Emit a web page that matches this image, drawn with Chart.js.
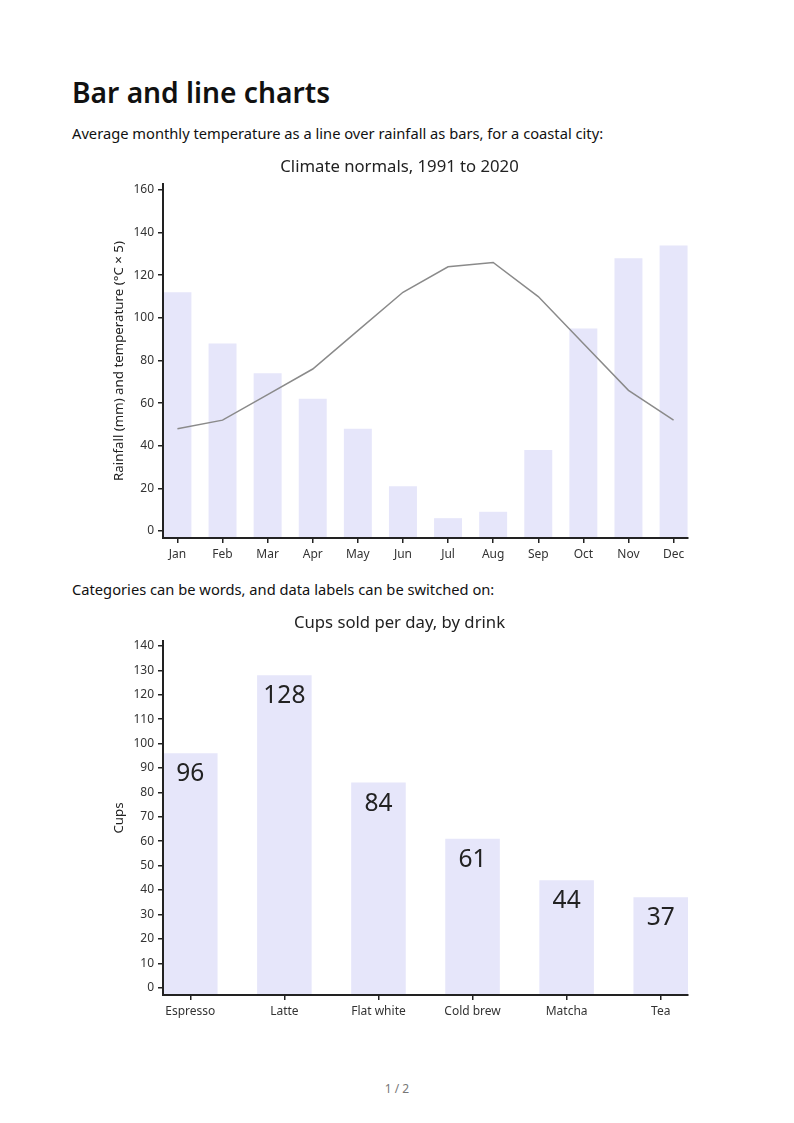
<!DOCTYPE html>
<html>
<head>
<meta charset="utf-8">
<script src="https://cdn.jsdelivr.net/npm/chart.js@4.4.1/dist/chart.umd.min.js"></script>
<style>
  body { margin: 0; background: #fff; font-family: "Noto Sans", sans-serif; color: #111; }
  .page { position: relative; width: 794px; height: 1123px; overflow: hidden; }
  h1 { position: absolute; left: 72px; top: 73px; margin: 0; font-size: 28.2px; font-weight: 600; line-height: normal; }
  p { position: absolute; left: 72px; margin: 0; font-size: 14.7px; line-height: normal; }
  .chart { position: absolute; left: 72px; }
  .pagenum { position: absolute; top: 1080px; width: 100%; text-align: center; font-size: 12px; color: #777; }
</style>
</head>
<body>
<div class="page">
  <h1>Bar and line charts</h1>
  <p style="top:123px">Average monthly temperature as a line over rainfall as bars, for a coastal city:</p>
  <canvas id="chart-climate" class="chart" width="650" height="418" style="top:150px"></canvas>
  <p style="top:579px">Categories can be words, and data labels can be switched on:</p>
  <canvas id="chart-cups" class="chart" width="650" height="418" style="top:607px"></canvas>
  <div class="pagenum">1 / 2</div>
</div>

<script>
/* ============================
   DATI
============================ */

const months = ['Jan', 'Feb', 'Mar', 'Apr', 'May', 'Jun', 'Jul', 'Aug', 'Sep', 'Oct', 'Nov', 'Dec'];
const rainfall = [112, 88, 74, 62, 48, 21, 6, 9, 38, 95, 128, 134];
const temperature = [48, 52, 64, 76, 94, 112, 124, 126, 110, 88, 66, 52];
const climateTicks = [0, 20, 40, 60, 80, 100, 120, 140, 160];

const drinks = ['Espresso', 'Latte', 'Flat white', 'Cold brew', 'Matcha', 'Tea'];
const cups = [96, 128, 84, 61, 44, 37];
const cupsTicks = [0, 10, 20, 30, 40, 50, 60, 70, 80, 90, 100, 110, 120, 130, 140];

/* ============================
   STILE COMUNE
============================ */

const FONT = '"Noto Sans", sans-serif';
const BAR_COLOR = '#e6e6fa';
const INK = '#222';

Chart.defaults.font.family = FONT;
Chart.defaults.animation = false;

function axisStyle() {
  // z: 1 -> assi e tacche disegnati sopra le barre
  return {
    offset: false,
    grid: { display: true, offset: false, drawOnChartArea: false, drawTicks: true, tickLength: 5, color: INK, lineWidth: 1.5, z: 1 },
    border: { display: true, color: INK, width: 2, z: 1 },
    ticks: { color: '#333', font: { size: 12 }, padding: 4 }
  };
}

function titleStyle(text, padTop, padBottom) {
  return {
    display: true,
    text,
    color: INK,
    font: { size: 16.7, weight: 'normal' },
    padding: { top: padTop, bottom: padBottom }
  };
}

// etichette dentro le barre
const dataLabels = {
  id: 'dataLabels',
  afterDatasetsDraw(chart) {
    const ctx = chart.ctx;
    const meta = chart.getDatasetMeta(0);
    ctx.save();
    ctx.font = '24.5px ' + FONT;
    ctx.fillStyle = INK;
    ctx.textAlign = 'center';
    ctx.textBaseline = 'middle';
    meta.data.forEach((bar, i) => {
      ctx.fillText(cups[i], bar.x, bar.y + 21);
    });
    ctx.restore();
  }
};

/* ============================
   GRAFICO CLIMA
============================ */

const climateMin = -3.3;

new Chart(document.getElementById('chart-climate'), {
  type: 'bar',
  data: {
    datasets: [
      {
        type: 'line',
        data: temperature.map((v, i) => ({ x: i, y: v })),
        borderColor: '#8a8a8a',
        borderWidth: 1.5,
        pointRadius: 0,
        tension: 0,
        order: 0
      },
      {
        data: rainfall.map((v, i) => ({ x: i, y: v })),
        backgroundColor: BAR_COLOR,
        barPercentage: 0.62,
        categoryPercentage: 1,
        base: climateMin,
        order: 1
      }
    ]
  },
  options: {
    responsive: false,
    layout: { padding: { left: 39, right: 34, top: 0, bottom: 0 } },
    plugins: {
      legend: { display: false },
      tooltip: { enabled: false },
      title: titleStyle('Climate normals, 1991 to 2020', 7, 7)
    },
    scales: {
      x: {
        ...axisStyle(),
        type: 'linear',
        min: -0.32,
        max: 11.32,
        afterBuildTicks: axis => { axis.ticks = months.map((m, i) => ({ value: i })); },
        afterFit: axis => { axis.height = 30; },
        ticks: { ...axisStyle().ticks, callback: v => months[v] }
      },
      y: {
        ...axisStyle(),
        min: climateMin,
        max: 162.8,
        afterBuildTicks: axis => { axis.ticks = climateTicks.map(v => ({ value: v })); },
        afterFit: axis => { axis.width = 52; },
        title: { display: true, text: 'Rainfall (mm) and temperature (°C × 5)', color: INK, font: { size: 13.3 }, padding: 0 }
      }
    }
  }
});

/* ============================
   GRAFICO TAZZE
============================ */

const cupsMin = -3;

new Chart(document.getElementById('chart-cups'), {
  type: 'bar',
  data: {
    datasets: [{
      data: cups.map((v, i) => ({ x: i, y: v })),
      backgroundColor: BAR_COLOR,
      barPercentage: 0.58,
      categoryPercentage: 1,
      base: cupsMin
    }]
  },
  options: {
    responsive: false,
    layout: { padding: { left: 39, right: 34, top: 0, bottom: 0 } },
    plugins: {
      legend: { display: false },
      tooltip: { enabled: false },
      title: titleStyle('Cups sold per day, by drink', 6, 8)
    },
    scales: {
      x: {
        ...axisStyle(),
        type: 'linear',
        min: -0.29,
        max: 5.29,
        afterBuildTicks: axis => { axis.ticks = drinks.map((d, i) => ({ value: i })); },
        afterFit: axis => { axis.height = 30; },
        ticks: { ...axisStyle().ticks, callback: v => drinks[v] }
      },
      y: {
        ...axisStyle(),
        min: cupsMin,
        max: 142,
        afterBuildTicks: axis => { axis.ticks = cupsTicks.map(v => ({ value: v })); },
        afterFit: axis => { axis.width = 52; },
        title: { display: true, text: 'Cups', color: INK, font: { size: 13.3 }, padding: 0 }
      }
    }
  },
  plugins: [dataLabels]
});
</script>
</body>
</html>
